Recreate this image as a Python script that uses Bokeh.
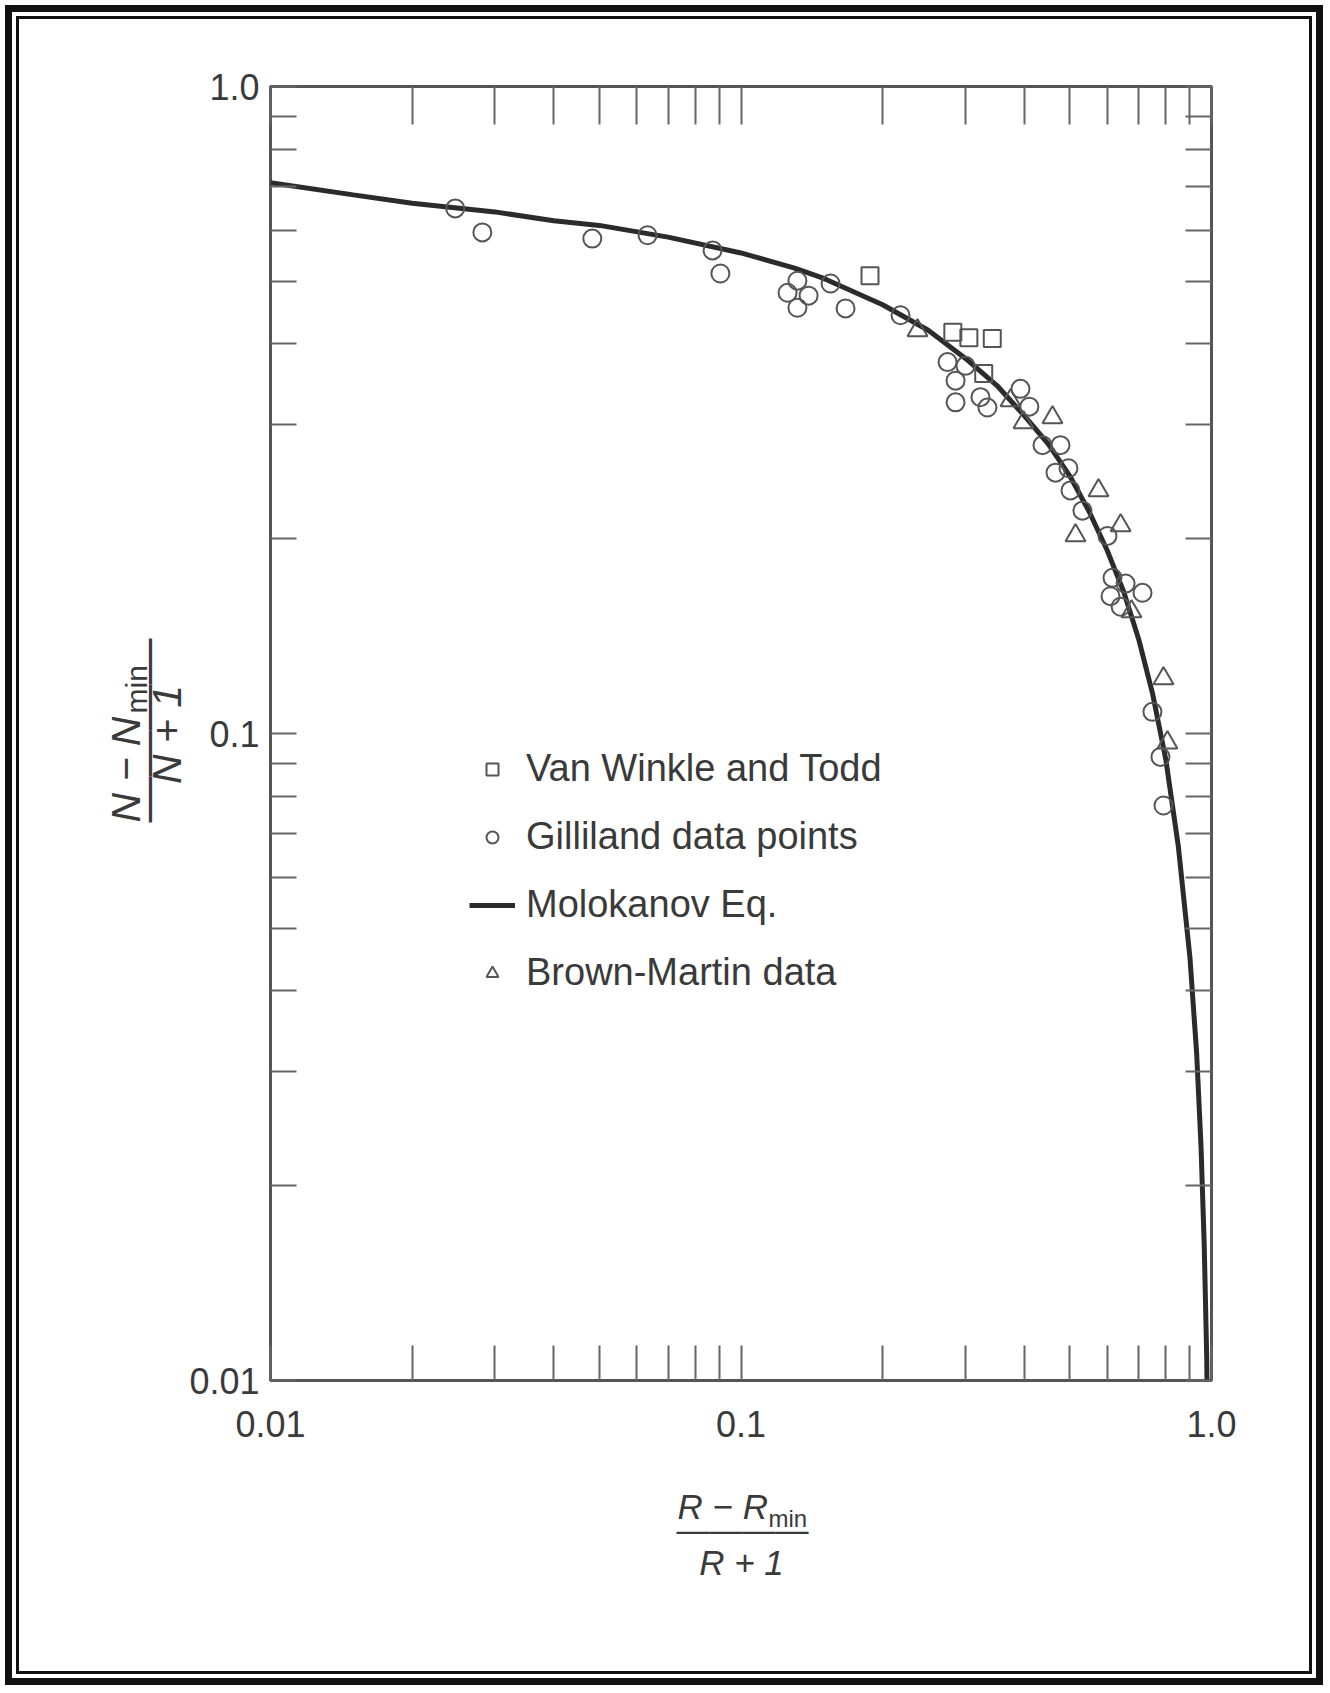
import math
from bokeh.plotting import figure
from bokeh.models import (Range1d, LogAxis, FixedTicker, Legend, LegendItem, Label)
from bokeh.embed import file_html
from bokeh.resources import INLINE

# ---------------- data ----------------
x_major = [0.01, 0.1, 1.0]
x_labels = ["0.01", "0.1", "1.0"]
y_major = [0.01, 0.1, 1.0]
y_labels = ["0.01", "0.1", "1.0"]
minor = [0.02, 0.03, 0.04, 0.05, 0.06, 0.07, 0.08, 0.09,
         0.2, 0.3, 0.4, 0.5, 0.6, 0.7, 0.8, 0.9]

# Molokanov Eq. curve
curve_x = [0.01, 0.015, 0.02, 0.03, 0.04, 0.05, 0.07, 0.1, 0.13, 0.15, 0.2,
           0.25, 0.3, 0.35, 0.4, 0.45, 0.5, 0.55, 0.6, 0.65, 0.7, 0.75, 0.8,
           0.85, 0.9, 0.93, 0.95, 0.965, 0.977, 0.99]
curve_y = [0.71, 0.68, 0.66, 0.64, 0.62, 0.61, 0.585, 0.553, 0.524, 0.505, 0.46,
           0.42, 0.38, 0.345, 0.31, 0.28, 0.25, 0.22, 0.192, 0.166, 0.14, 0.115,
           0.091, 0.067, 0.045, 0.032, 0.023, 0.0162, 0.0108, 0.0043]

# Van Winkle and Todd (squares)
vwt_x = [0.188, 0.282, 0.305, 0.342, 0.328]
vwt_y = [0.510, 0.417, 0.409, 0.408, 0.360]

# Gilliland data points (circles)
gil_x = [0.0247, 0.0282, 0.0483, 0.0633, 0.087, 0.0904, 0.1256, 0.1318, 0.1318,
         0.1392, 0.155, 0.1668, 0.2183, 0.2748, 0.300, 0.2858, 0.2858, 0.3228,
         0.334, 0.3926, 0.410, 0.4373, 0.4775, 0.4661, 0.4966, 0.5015, 0.5318,
         0.601, 0.616, 0.6567, 0.610, 0.641, 0.7134, 0.749, 0.779, 0.7906]
gil_y = [0.648, 0.595, 0.582, 0.589, 0.558, 0.514, 0.480, 0.501, 0.455,
         0.475, 0.496, 0.454, 0.443, 0.375, 0.370, 0.351, 0.325, 0.331,
         0.319, 0.341, 0.320, 0.279, 0.279, 0.253, 0.257, 0.2375, 0.221,
         0.202, 0.174, 0.1705, 0.163, 0.157, 0.165, 0.108, 0.092, 0.0774]

# Brown-Martin data (triangles)
bm_x = [0.2372, 0.374, 0.3985, 0.4592, 0.5752, 0.514, 0.641, 0.676, 0.7906, 0.806]
bm_y = [0.4196, 0.327, 0.3024, 0.3079, 0.2375, 0.2023, 0.2097, 0.1544, 0.1216, 0.0968]

# ---------------- layout helpers ----------------
W, H = 1328, 1690
FL, FT, FW, FH = 270, 86, 941, 1294   # plot frame in canvas px


def cx(page_x):
    return 10 ** (-2 + 2 * (page_x - FL) / FW)


def cy(page_y):
    return 10 ** (-2 * (page_y - FT) / FH)


INK = "#3a3a3a"
TICK = "#666666"
FONT = "Liberation Sans"

p = figure(width=W, height=H, x_axis_type="log", y_axis_type="log",
           x_range=Range1d(0.01, 1.0), y_range=Range1d(0.01, 1.0),
           output_backend="svg", toolbar_location=None,
           min_border_left=FL, min_border_right=W - FL - FW,
           min_border_top=FT, min_border_bottom=H - FT - FH)
p.grid.visible = False
p.outline_line_color = "#555555"
p.outline_line_width = 3
# transparent canvas so the page frame drawn on the host element shows through
p.background_fill_color = None
p.border_fill_color = None
p.styles = {
    "box-shadow": ("inset 0 0 0 5px #ffffff, inset 0 0 0 12px #111111, "
                   "inset 0 0 0 16px #ffffff, inset 0 0 0 19px #111111"),
    "background-color": "#ffffff",
}


def style_axis(ax, ticks, labels, tick_len, show_labels):
    ax.ticker = FixedTicker(ticks=ticks, minor_ticks=minor)
    ax.major_tick_in = tick_len
    ax.major_tick_out = 0
    ax.minor_tick_in = tick_len
    ax.minor_tick_out = 0
    ax.major_tick_line_color = TICK
    ax.minor_tick_line_color = TICK
    ax.major_tick_line_width = 2
    ax.minor_tick_line_width = 2
    ax.axis_line_color = None
    if show_labels:
        ax.major_label_overrides = dict(zip(ticks, labels))
    else:
        ax.major_label_overrides = dict(zip(ticks, ["" for _ in labels]))
    ax.major_label_text_font = FONT
    ax.major_label_text_font_size = "36px"
    ax.major_label_text_color = INK


style_axis(p.xaxis[0], x_major, x_labels, 35, True)
p.xaxis[0].major_label_standoff = 30
style_axis(p.yaxis[0], y_major, y_labels, 26, True)
p.yaxis[0].major_label_standoff = 11

top = LogAxis()
style_axis(top, x_major, x_labels, 38, False)
p.add_layout(top, "above")
right = LogAxis()
style_axis(right, y_major, y_labels, 26, False)
p.add_layout(right, "right")

# ---------------- data marks ----------------
r_curve = p.line(curve_x, curve_y, line_color="#2b2b2b", line_width=5)
r_vwt = p.scatter(vwt_x, vwt_y, marker="square", size=17, fill_color=None,
                  line_color="#555555", line_width=2)
r_gil = p.scatter(gil_x, gil_y, marker="circle", size=18, fill_color=None,
                  line_color="#555555", line_width=2)
r_bm = p.scatter(bm_x, bm_y, marker="triangle", size=20, fill_color=None,
                 line_color="#555555", line_width=2)

legend = Legend(items=[
    LegendItem(label="Van Winkle and Todd", renderers=[r_vwt]),
    LegendItem(label="Gilliland data points", renderers=[r_gil]),
    LegendItem(label="Molokanov Eq.", renderers=[r_curve]),
    LegendItem(label="Brown-Martin data", renderers=[r_bm]),
], location=(199, 386))
legend.label_text_font = FONT
legend.label_text_font_size = "38px"
legend.label_text_color = INK
legend.glyph_width = 46
legend.glyph_height = 30
legend.label_height = 42
legend.label_standoff = 11
legend.spacing = 25
legend.padding = 0
legend.margin = 0
legend.border_line_color = None
legend.background_fill_alpha = 0
p.add_layout(legend)


# ---------------- axis titles (fractions) ----------------
def lab(text, page_x, page_y, size, italic=True, align="left", angle=0.0):
    return Label(x=cx(page_x), y=cy(page_y), text=text, text_font=FONT,
                 text_font_style="italic" if italic else "normal",
                 text_font_size=size, text_color=INK, text_align=align,
                 text_baseline="alphabetic", angle=angle)


BAR = "\u2014\u2014\u2014\u2014"

# x title:  (R - Rmin) / (R + 1)
p.add_layout(lab("R \u2212 R", 677, 1506, "35px"), "below")
p.add_layout(lab("min", 768, 1518, "24px", italic=False), "below")
p.add_layout(lab(BAR, 742, 1529, "33px", italic=False, align="center"), "below")
p.add_layout(lab("R + 1", 741, 1562, "35px", align="center"), "below")

# y title:  (N - Nmin) / (N + 1), rotated to read upwards
ang = math.pi / 2
p.add_layout(lab("N \u2212 N", 125, 822, "41px", angle=ang), "left")
p.add_layout(lab("min", 136, 713, "30px", italic=False, angle=ang), "left")
p.add_layout(lab(BAR, 145, 730, "46px", italic=False, align="center", angle=ang), "left")
p.add_layout(lab("N + 1", 166, 734, "41px", align="center", angle=ang), "left")

open("out.html", "w").write(file_html(p, INLINE))
